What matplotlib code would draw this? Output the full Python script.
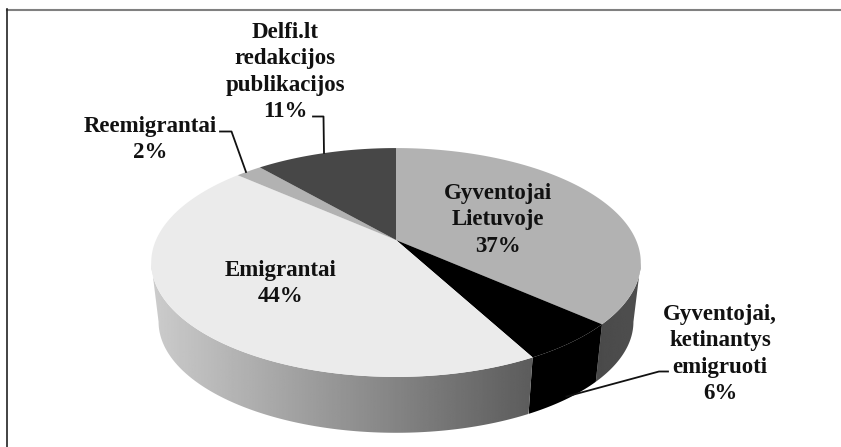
import numpy as np
import matplotlib
matplotlib.use("Agg")
import matplotlib.pyplot as plt
from matplotlib.patches import Polygon

# share of publications (labels show them rounded)
categories = ["Gyventojai\nLietuvoje", "Gyventojai,\nketinantys\nemigruoti",
              "Emigrantai", "Reemigrantai", "Delfi.lt\nredakcijos\npublikacijos"]
values = [36.6, 5.6, 44.4, 2.1, 11.3]
top_colors = ["#b2b2b2", "#000000", "#ebebeb", "#b2b2b2", "#474747"]

# pie geometry in picture pixels, with a bit of perspective like Excel's 3D pie
CX, CY = 396, 240
SX, SY, K = 240, 110, 0.1965
SHRINK, DROP = 0.97, 60

plt.rcParams["font.family"] = ["Liberation Serif", "DejaVu Serif"]


def rim(theta, bottom=False):
    """Screen position of the rim; theta runs clockwise from 12 o'clock."""
    u, v = np.sin(theta), -np.cos(theta)
    x = SX * u / (1 - K * v)
    y = SY * v / (1 - K * v)
    if bottom:
        return CX + SHRINK * x, CY + SHRINK * y + DROP
    return CX + x, CY + y


def arc(start, end, bottom=False):
    n = max(int(abs(end - start) * 80), 2)
    x, y = rim(np.linspace(start, end, n), bottom)
    return np.column_stack([x, y])


def side(ax, start, end, left_grey, right_grey):
    """Outer wall of a slice, with a left to right grey gradient."""
    pts = np.vstack([arc(start, end), arc(end, start, bottom=True)])
    x0, x1 = pts[:, 0].min(), pts[:, 0].max()
    grad = np.linspace(left_grey, right_grey, 256).reshape(1, -1)
    im = ax.imshow(grad, cmap="gray", vmin=0, vmax=1, aspect="auto", zorder=2,
                   extent=(x0, x1, pts[:, 1].max(), pts[:, 1].min()))
    im.set_clip_path(Polygon(pts, transform=ax.transData))


fig = plt.figure(figsize=(8.41, 4.47), dpi=100)
ax = fig.add_axes([0, 0, 1, 1])
ax.set_xlim(0, 841)
ax.set_ylim(447, 0)
ax.axis("off")

edges = 2 * np.pi * np.cumsum([0] + values) / sum(values)

# the wall is seen between the two points where the rim is widest
widest = np.arccos(-K)
side(ax, widest, edges[1], 0.29, 0.31)
side(ax, edges[1], edges[2], 0.0, 0.0)
side(ax, edges[2], 2 * np.pi - widest, 0.80, 0.36)

for i, color in enumerate(top_colors):
    pts = np.vstack([[CX, CY], arc(edges[i], edges[i + 1])])
    ax.add_patch(Polygon(pts, closed=True, facecolor=color, edgecolor="none",
                         zorder=3))

label_pos = [(498, 220), (720, 354), (281, 283.5), (150, 139.5), (285, 72)]
for name, val, pos in zip(categories, values, label_pos):
    ax.text(pos[0], pos[1], "%s\n%d%%" % (name, round(val)), ha="center",
            va="center", fontsize=16.5, fontweight="bold", color="#111111",
            linespacing=1.33, zorder=5)

# leader lines
leaders = [[(220, 131.5), (231.5, 131.5), (246, 172)],
           [(313, 116.5), (323.5, 116.5), (324, 153)],
           [(668, 371.5), (659, 371.5), (566.5, 396.5)]]
for line in leaders:
    xs, ys = zip(*line)
    ax.plot(xs, ys, color="#111111", lw=1.3, zorder=4)

# chart frame, only its top and left edges are inside the picture
ax.plot([7, 841], [9.5, 9.5], color="#808080", lw=1.5, zorder=1)
ax.plot([7.5, 7.5], [9, 447], color="#222222", lw=1.2, zorder=1)

fig.savefig("out.png", dpi=100)
